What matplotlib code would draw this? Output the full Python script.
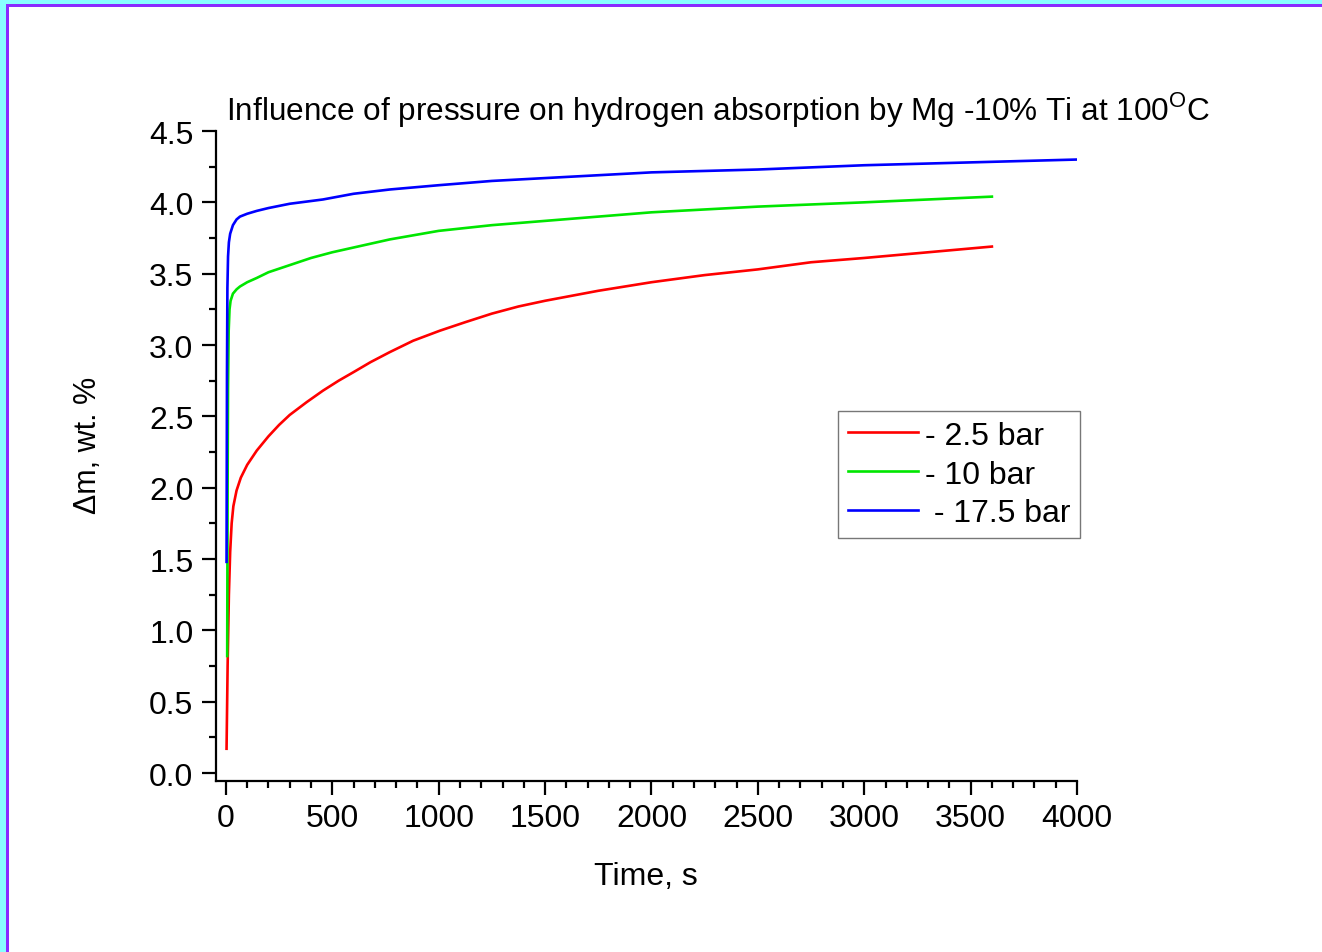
import matplotlib
matplotlib.use("Agg")
import matplotlib.pyplot as plt
from matplotlib.patches import Rectangle
from matplotlib.ticker import MultipleLocator

plt.rcParams['font.family'] = ['Liberation Sans', 'DejaVu Sans']
plt.rcParams['mathtext.fontset'] = 'custom'
plt.rcParams['mathtext.rm'] = 'Liberation Sans'

# Hydrogen uptake of Mg-10% Ti at 100 C, time in s, mass gain in wt. %
t_25 = [3, 8, 14, 20, 27, 35, 50, 70, 100, 145, 200, 250, 300, 380, 456,
        530, 600, 680, 770, 880, 1005, 1125, 1250, 1375, 1500, 1750, 2000,
        2250, 2500, 2750, 3000, 3300, 3600]
m_25 = [0.17, 0.75, 1.25, 1.55, 1.75, 1.87, 1.98, 2.07, 2.16, 2.26, 2.36,
        2.44, 2.51, 2.60, 2.68, 2.75, 2.81, 2.88, 2.95, 3.03, 3.10, 3.16,
        3.22, 3.27, 3.31, 3.38, 3.44, 3.49, 3.53, 3.58, 3.61, 3.65, 3.69]

t_10 = [6, 8, 10, 13, 17, 22, 33, 50, 66, 100, 145, 200, 300, 400, 500,
        650, 770, 1000, 1250, 1500, 1750, 2000, 2500, 3000, 3600]
m_10 = [0.82, 2.00, 2.70, 3.10, 3.25, 3.31, 3.36, 3.39, 3.41, 3.44, 3.47,
        3.51, 3.56, 3.61, 3.65, 3.70, 3.74, 3.80, 3.84, 3.87, 3.90, 3.93,
        3.97, 4.00, 4.04]

t_175 = [3, 5, 7, 10, 14, 20, 33, 50, 66, 100, 145, 200, 300, 456, 600,
         770, 1000, 1250, 1500, 2000, 2500, 3000, 3500, 4000]
m_175 = [1.48, 2.80, 3.40, 3.62, 3.72, 3.78, 3.84, 3.88, 3.90, 3.92, 3.94,
         3.96, 3.99, 4.02, 4.06, 4.09, 4.12, 4.15, 4.17, 4.21, 4.23, 4.26,
         4.28, 4.30]

labels = ["- 2.5 bar", "- 10 bar", " - 17.5 bar"]
colors = ["#ff0000", "#00e600", "#0000ff"]

W, H = 1322, 953
fig = plt.figure(figsize=(W / 100, H / 100), dpi=100)
fig.patch.set_facecolor("white")

# page border: cyan band with a violet rule along the top and left edges
fig.patches.append(Rectangle((0, 1 - 5 / H), 1, 5 / H, transform=fig.transFigure,
                             facecolor="#88ffff", edgecolor="none", zorder=0))
fig.patches.append(Rectangle((0, 0), 6 / W, 1, transform=fig.transFigure,
                             facecolor="#88ffff", edgecolor="none", zorder=0))
fig.patches.append(Rectangle((6 / W, 1 - 8 / H), 1, 3 / H, transform=fig.transFigure,
                             facecolor="#8a2cff", edgecolor="none", zorder=1))
fig.patches.append(Rectangle((6 / W, 0), 3 / W, 1 - 5 / H, transform=fig.transFigure,
                             facecolor="#8a2cff", edgecolor="none", zorder=1))

ax = fig.add_axes([215.7 / W, (H - 782) / H, (1077 - 215.7) / W, (782 - 132) / H])

ax.plot(t_25, m_25, color=colors[0], lw=1.9, label=labels[0])
ax.plot(t_10, m_10, color=colors[1], lw=1.9, label=labels[1])
ax.plot(t_175, m_175, color=colors[2], lw=1.9, label=labels[2])

ax.set_xlim(-48, 4000)
ax.set_ylim(-0.056, 4.5)

for side in ("top", "right"):
    ax.spines[side].set_visible(False)
for side in ("left", "bottom"):
    ax.spines[side].set_linewidth(1.6)

ax.xaxis.set_major_locator(MultipleLocator(500))
ax.xaxis.set_minor_locator(MultipleLocator(100))
ax.yaxis.set_major_locator(MultipleLocator(0.5))
ax.yaxis.set_minor_locator(MultipleLocator(0.25))
ax.yaxis.set_major_formatter(plt.FormatStrFormatter("%.1f"))
ax.tick_params(which="major", direction="out", length=10, width=1.6,
               labelsize=23, pad=6)
ax.tick_params(which="minor", direction="out", length=5, width=1.6)

ax.set_xlabel("Time, s", fontsize=23, labelpad=20)
ax.set_ylabel("\u0394m, wt. %", fontsize=22)
ax.yaxis.set_label_coords(-0.131, 0.518)

fig.text(226 / W, (H - 120) / H,
         r"Influence of pressure on hydrogen absorption by Mg -10% Ti at 100$^{\mathrm{O}}$C",
         fontsize=22.7, ha="left", va="baseline")

leg = ax.legend(loc="upper left", bbox_to_anchor=(838 / W, (H - 412) / H),
                bbox_transform=fig.transFigure, borderaxespad=0,
                fontsize=23, frameon=True, fancybox=False, framealpha=1,
                edgecolor="#777777", handlelength=2.2, handletextpad=0.22,
                labelspacing=0.28, borderpad=0.3)
leg.get_frame().set_linewidth(1.0)

fig.savefig("out.png", dpi=100, facecolor="white")
